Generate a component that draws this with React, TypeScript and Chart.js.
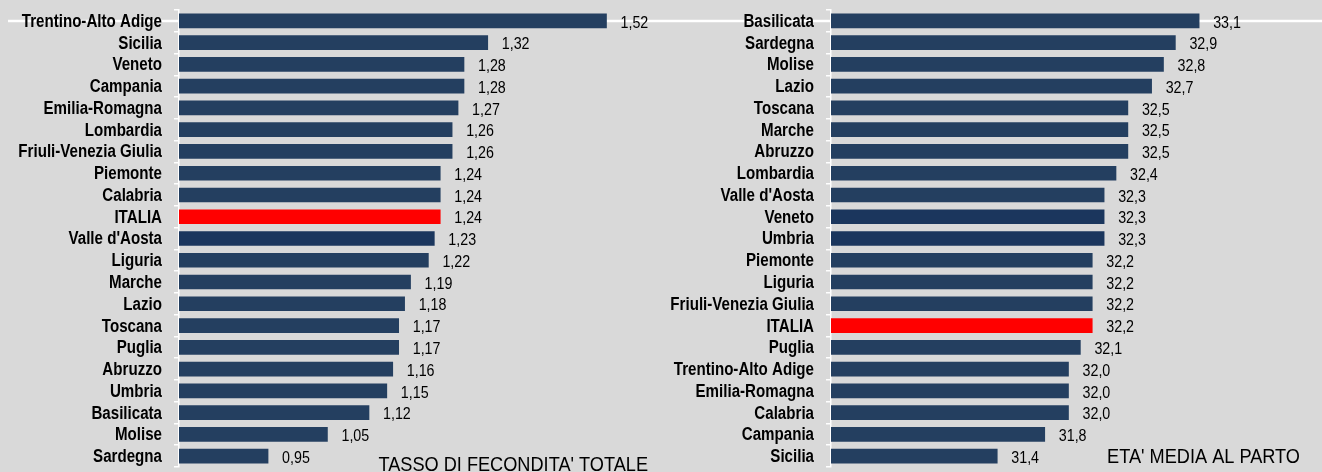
import React, { useEffect, useRef } from "react";
import { Chart, registerables } from "chart.js";

Chart.register(...registerables);

// ---- DATA ----
const tftCategories = [
  "Trentino-Alto Adige", "Sicilia", "Veneto", "Campania", "Emilia-Romagna", "Lombardia",
  "Friuli-Venezia Giulia", "Piemonte", "Calabria", "ITALIA", "Valle d'Aosta", "Liguria",
  "Marche", "Lazio", "Toscana", "Puglia", "Abruzzo", "Umbria", "Basilicata", "Molise", "Sardegna",
];
const tftValues = [
  1.52, 1.32, 1.28, 1.28, 1.27, 1.26, 1.26, 1.24, 1.24, 1.24, 1.23, 1.22,
  1.19, 1.18, 1.17, 1.17, 1.16, 1.15, 1.12, 1.05, 0.95,
];
const ageCategories = [
  "Basilicata", "Sardegna", "Molise", "Lazio", "Toscana", "Marche", "Abruzzo", "Lombardia",
  "Valle d'Aosta", "Veneto", "Umbria", "Piemonte", "Liguria", "Friuli-Venezia Giulia", "ITALIA",
  "Puglia", "Trentino-Alto Adige", "Emilia-Romagna", "Calabria", "Campania", "Sicilia",
];
const ageValues = [
  33.1, 32.9, 32.8, 32.7, 32.5, 32.5, 32.5, 32.4, 32.3, 32.3, 32.3, 32.2, 32.2, 32.2, 32.2,
  32.1, 32.0, 32.0, 32.0, 31.8, 31.4,
];
const tftTitle = "TASSO DI FECONDITA' TOTALE";
const ageTitle = "ETA' MEDIA AL PARTO";
const tftRange = [0.8, 1.6];
const ageRange = [30, 34];
const tftDarker = ["Valle d'Aosta"];
const ageDarker = ["Veneto", "Umbria"];

// ---- STYLE ----
const NAVY = "#243f60";
const NAVY_DARK = "#1b365d";
const RED = "#ff0000";
const BG = "#d9d9d9";
const FAMILY = '"Liberation Sans", Arial, sans-serif';

const fmt = (v: number, d: number) => v.toFixed(d).replace(".", ",");

function narrowText(
  ctx: CanvasRenderingContext2D,
  text: string,
  x: number,
  y: number,
  align: CanvasTextAlign,
  squeeze: number
) {
  ctx.save();
  ctx.translate(x, y);
  ctx.scale(squeeze, 1);
  ctx.textAlign = align;
  ctx.fillText(text, 0, 0);
  ctx.restore();
}

const firstRowLine = {
  id: "firstRowLine",
  beforeDraw(chart: any, _a: any, opts: any) {
    const ctx = chart.ctx;
    const y = chart.scales.y.getPixelForValue(0);
    ctx.save();
    ctx.strokeStyle = "#ffffff";
    ctx.lineWidth = 2.5;
    ctx.beginPath();
    ctx.moveTo(opts.startX || 0, y);
    ctx.lineTo(chart.width, y);
    ctx.stroke();
    ctx.restore();
  },
};

const categoryLabels = {
  id: "categoryLabels",
  afterDraw(chart: any) {
    const ctx = chart.ctx;
    const ys = chart.scales.y;
    ctx.save();
    ctx.font = `bold 18px ${FAMILY}`;
    ctx.fillStyle = "#000";
    ctx.textBaseline = "middle";
    (chart.data.labels as string[]).forEach((lab, i) => {
      narrowText(ctx, lab, chart.chartArea.left - 17, ys.getPixelForValue(i) + 1, "right", 0.84);
    });
    ctx.restore();
  },
};

const valueLabels = {
  id: "valueLabels",
  afterDatasetsDraw(chart: any, _a: any, opts: any) {
    const ctx = chart.ctx;
    const meta = chart.getDatasetMeta(0);
    const data = chart.data.datasets[0].data;
    ctx.save();
    ctx.font = `17px ${FAMILY}`;
    ctx.fillStyle = "#000";
    ctx.textBaseline = "middle";
    meta.data.forEach((bar: any, i: number) => {
      narrowText(ctx, fmt(data[i], opts.decimals), bar.x + 14, bar.y + 2, "left", 0.84);
    });
    ctx.restore();
  },
};

const panelTitle = {
  id: "panelTitle",
  afterDraw(chart: any, _a: any, opts: any) {
    const ctx = chart.ctx;
    ctx.save();
    ctx.font = `21px ${FAMILY}`;
    ctx.fillStyle = "#000";
    ctx.textBaseline = "alphabetic";
    narrowText(ctx, opts.text, chart.chartArea.right - 6, chart.chartArea.bottom + opts.dy, "right", 0.865);
    ctx.restore();
  },
};

function BarPanel(props: {
  categories: string[];
  values: number[];
  range: number[];
  darker: string[];
  decimals: number;
  title: string;
  titleDy: number;
  axisWidth: number;
  padRight: number;
  lineStart: number;
  width: number;
  left: number;
}) {
  const ref = useRef<HTMLCanvasElement>(null);
  useEffect(() => {
    const colors = props.categories.map((c) =>
      c === "ITALIA" ? RED : props.darker.includes(c) ? NAVY_DARK : NAVY
    );
    const chart = new Chart(ref.current!, {
      type: "bar",
      data: {
        labels: props.categories,
        datasets: [
          {
            data: props.values,
            backgroundColor: colors,
            borderWidth: 0,
            barThickness: 14,
          },
        ],
      },
      options: {
        indexAxis: "y",
        responsive: false,
        animation: false,
        devicePixelRatio: 1,
        layout: { padding: { top: 10, bottom: 5, right: props.padRight, left: 0 } },
        plugins: {
          legend: { display: false },
          tooltip: { enabled: false },
          title: { display: false },
          valueLabels: { decimals: props.decimals },
          panelTitle: { text: props.title, dy: props.titleDy },
          firstRowLine: { startX: props.lineStart },
        } as any,
        scales: {
          x: { display: false, min: props.range[0], max: props.range[1] },
          y: {
            afterFit: (s: any) => {
              s.width = props.axisWidth;
              s.paddingTop = 0;
              s.paddingBottom = 0;
            },
            grid: {
              display: true,
              drawOnChartArea: false,
              drawTicks: true,
              tickLength: 5,
              color: "#ffffff",
              lineWidth: 1.5,
              offset: true,
            },
            border: { display: true, color: "#ffffff", width: 1.5 },
            ticks: { display: false, autoSkip: false },
          },
        } as any,
      },
      plugins: [firstRowLine, categoryLabels, valueLabels, panelTitle],
    });
    return () => chart.destroy();
  }, []);
  return (
    <canvas
      ref={ref}
      width={props.width}
      height={472}
      style={{ position: "absolute", left: props.left, top: 0, width: props.width, height: 472 }}
    />
  );
}

export default function App() {
  return (
    <div
      style={{
        position: "absolute",
        left: 0,
        top: 0,
        width: 1322,
        height: 472,
        background: BG,
        overflow: "hidden",
      }}
    >
      <BarPanel
        categories={tftCategories}
        values={tftValues}
        range={tftRange}
        darker={tftDarker}
        decimals={2}
        title={tftTitle}
        titleDy={4}
        axisWidth={179}
        padRight={10}
        lineStart={8}
        width={664}
        left={0}
      />
      <BarPanel
        categories={ageCategories}
        values={ageValues}
        range={ageRange}
        darker={ageDarker}
        decimals={1}
        title={ageTitle}
        titleDy={-4}
        axisWidth={167}
        padRight={16}
        lineStart={0}
        width={658}
        left={664}
      />
    </div>
  );
}
